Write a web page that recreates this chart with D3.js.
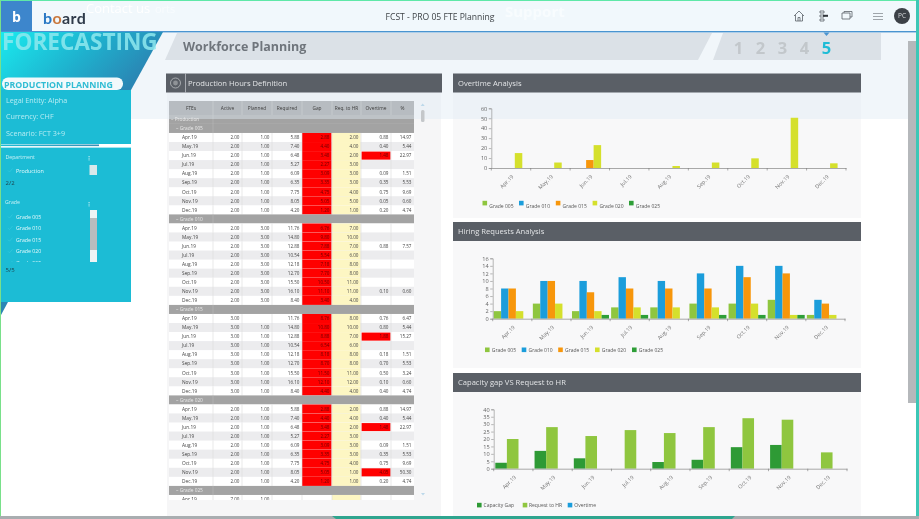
<!DOCTYPE html>
<html>
<head>
<meta charset="utf-8">
<title>FCST - PRO 05 FTE Planning</title>
<script src="https://cdn.jsdelivr.net/npm/d3@7"></script>
<style>
    html, body { margin: 0; padding: 0; background: #fff; overflow: hidden; }
    svg { display: block; font-family: "Open Sans", sans-serif; filter: blur(0.35px); }
</style>
</head>
<body>
<div id="chart"></div>
<script>
'use strict';

var months = ['Apr.19', 'May.19', 'Jun.19', 'Jul.19', 'Aug.19', 'Sep.19', 'Oct.19', 'Nov.19', 'Dec.19'];

// Overtime Analysis
var overtimeGrades = ['Grade 005', 'Grade 010', 'Grade 015', 'Grade 020', 'Grade 025'];
var overtime015 = [0, 0, 8, 0, 0, 0, 0, 0, 0];
var overtime020 = [15, 5.5, 23, 0, 2, 5.5, 9.7, 50.5, 4.7];

// Hiring Requests Analysis
var hiring005 = [2, 4, 2, 3, 3, 4, 4, 5, 1];
var hiring010 = [8, 10, 10, 11, 10, 12, 14, 14, 5];
var hiring015 = [8, 10, 7, 8, 8, 8, 11, 12, 4];
var hiring020 = [2, 4, 2, 3, 3, 3, 4, 1, 1];
var hiring025 = [0, 0, 1, 1, 0, 1, 1, 1, 0];

// Capacity gap VS Request to HR
var capacityNames = ['Capacity Gap', 'Request to HR', 'Overtime'];
var capacityGap = [4, 12, 7, 0, 4.5, 6, 14.5, 16, 0];
var requestToHr = [20, 28, 22, 26, 24, 28, 34, 33, 11];
var capacityOvertime = [0, 0, 0, 0, 0, 0, 0, 0, 0];

// Table columns
var tableColumns = ['FTEs', 'Active', 'Planned', 'Required', 'Gap', 'Req. to HR', 'Overtime', '%'];

var required005 = [5.88, 7.40, 6.48, 5.27, 6.09, 6.35, 7.75, 8.05, 4.20];
var gap005 = [2.88, 4.40, 3.48, 2.27, 3.09, 3.35, 4.75, 5.05, 1.20];
var req005 = [2, 4, 2, 3, 3, 3, 4, 5, 1];
var over005 = [0.88, 0.40, 1.48, null, 0.09, 0.35, 0.75, 0.05, 0.20];
var pct005 = [14.97, 5.44, 22.97, null, 1.51, 5.53, 9.69, 0.60, 4.74];

var required010 = [11.76, 14.80, 12.88, 10.54, 12.18, 12.70, 15.50, 16.10, 8.40];
var gap010 = [6.76, 9.80, 7.88, 5.54, 7.18, 7.70, 10.50, 11.10, 3.40];
var req010 = [7, 10, 7, 6, 8, 8, 11, 11, 4];
var over010 = [null, null, 0.88, null, null, null, null, 0.10, null];
var pct010 = [null, null, 7.57, null, null, null, null, 0.60, null];

var required015 = [11.76, 14.80, 12.88, 10.54, 12.18, 12.70, 15.50, 16.10, 8.40];
var gap015 = [8.76, 10.80, 8.88, 6.54, 8.18, 8.70, 11.50, 12.10, 4.40];
var req015 = [8, 10, 7, 6, 8, 8, 11, 12, 4];
var over015 = [0.76, 0.80, 1.88, null, 0.18, 0.70, 0.50, 0.10, 0.40];
var pct015 = [6.47, 5.44, 15.27, null, 1.51, 5.53, 3.24, 0.60, 4.74];

var required020 = [5.88, 7.40, 6.48, 5.27, 6.09, 6.35, 7.75, 8.05, 4.20];
var gap020 = [2.88, 4.40, 3.48, 2.27, 3.09, 3.35, 4.75, 5.05, 1.20];
var req020 = [2, 4, 2, 3, 3, 3, 4, 1, 1];
var over020 = [0.88, 0.40, 1.48, null, 0.09, 0.35, 0.75, 4.05, 0.20];
var pct020 = [14.97, 5.44, 22.97, null, 1.51, 5.53, 9.69, 50.30, 4.74];

var grades = [
    { name: 'Grade 005', active: 2, planned: [1, 1, 1, 1, 1, 1, 1, 1, 1], required: required005, gap: gap005, req: req005, over: over005, pct: pct005 },
    { name: 'Grade 010', active: 2, planned: [3, 3, 3, 3, 3, 3, 3, 3, 3], required: required010, gap: gap010, req: req010, over: over010, pct: pct010 },
    { name: 'Grade 015', active: 3, planned: [null, 1, 1, 1, 1, 1, 1, 1, 1], required: required015, gap: gap015, req: req015, over: over015, pct: pct015 },
    { name: 'Grade 020', active: 2, planned: [1, 1, 1, 1, 1, 1, 1, 1, 1], required: required020, gap: gap020, req: req020, over: over020, pct: pct020 }
];

var colors = { g005: '#8fc63f', g010: '#1b9ddb', g015: '#f7960b', g020: '#d5e02c', g025: '#2e9e37' };

var width = 919, height = 519;
var svg = d3.select('#chart').append('svg').attr('width', width).attr('height', height);
var defs = svg.append('defs');

function gradient(id, x2, y2, stops) {
    var g = defs.append('linearGradient').attr('id', id)
        .attr('x1', 0).attr('y1', 0).attr('x2', x2).attr('y2', y2);
    stops.forEach(function(s) {
        g.append('stop').attr('offset', s[0]).attr('stop-color', s[1]);
    });
}
gradient('sideGrad', 1, 0.35, [[0, '#1aeaee'], [0.55, '#1eb3cf'], [1, '#2a86b4']]);
gradient('stripeGrad', 1, 0, [[0, '#1cbcd5'], [1, '#3a8fb5']]);

function rect(parent, x, y, w, h, fill) {
    return parent.append('rect').attr('x', x).attr('y', y).attr('width', w).attr('height', h).attr('fill', fill);
}

function label(parent, x, y, str, size, fill, weight, anchor) {
    return parent.append('text').attr('x', x).attr('y', y).text(str)
        .attr('font-size', size).attr('fill', fill)
        .attr('font-weight', weight || 400)
        .attr('text-anchor', anchor || 'start');
}

function poly(parent, pts, fill) {
    return parent.append('polygon').attr('points', pts).attr('fill', fill);
}

// page and panel backgrounds
rect(svg, 0, 0, width, height, '#ffffff');
rect(svg, 167, 92, 274, 424, '#f6f6f7');
rect(svg, 453, 92, 408, 126, '#f8f8f9');
rect(svg, 453, 241, 408, 127, '#f8f8f9');
rect(svg, 453, 392, 408, 124, '#f8f8f9');

/* ---------- table ---------- */
var colEdges = [169, 213, 242, 272, 302, 332, 361, 391, 414];
var rowY = d3.scaleLinear().domain([0, 1]).range([119.4, 128.45]);
var rowH = 9.05;
var fmt = d3.format('.2f');

defs.append('clipPath').attr('id', 'tableClip').append('rect')
    .attr('x', 160).attr('y', 95).attr('width', 270).attr('height', 405);
var rowsG = svg.append('g').attr('clip-path', 'url(#tableClip)');

// light blue wash over the upper part of the page
rect(svg, 0, 32, width, 87, '#dfecf5').attr('opacity', 0.45);

var textG = svg.append('g').attr('clip-path', 'url(#tableClip)');

function bandRow(index, name, indent) {
    var y = rowY(index);
    rect(rowsG, colEdges[0], y - rowH / 2, colEdges[8] - colEdges[0], rowH, '#a3a3a3');
    rect(rowsG, colEdges[1] - 0.3, y - rowH / 2, 0.6, rowH, '#b9b9b9');
    label(textG, colEdges[0] + indent, y + 1.7, '\u2013  ' + name, 4.8, '#e9e9e9');
}

function dataRow(index, cells, striped) {
    var y = rowY(index), top = y - rowH / 2;
    rect(rowsG, colEdges[0], top, colEdges[8] - colEdges[0], rowH, striped ? '#ececee' : '#ffffff');
    rect(rowsG, colEdges[4], top, colEdges[5] - colEdges[4] - 0.5, rowH, '#ff0000');
    rect(rowsG, colEdges[5], top, colEdges[6] - colEdges[5] - 0.5, rowH, '#fdf6c3');
    if (cells.over > 1) {
        rect(rowsG, colEdges[6] + 0.5, top + 0.5, colEdges[7] - colEdges[6] - 1, rowH - 1, '#ff0000');
    }
    colEdges.slice(1, 8).forEach(function(x) {
        rect(rowsG, x - 0.3, top, 0.6, rowH, '#d9d9db');
    });
    label(textG, colEdges[0] + 13, y + 1.7, cells.month, 4.8, '#444');
    [cells.active, cells.planned, cells.required, cells.gap, cells.req, cells.over, cells.pct].forEach(function(v, i) {
        if (v === null || v === undefined) return;
        var isRed = i === 3 || (i === 5 && cells.over > 1);
        label(textG, colEdges[i + 2] - 2.5, y + 1.7, fmt(v), 4.6, isRed ? '#6a0000' : '#444', 400, 'end');
    });
}

var rowIndex = 0;
bandRow(rowIndex++, 'Production', 2);
grades.forEach(function(grade) {
    bandRow(rowIndex++, grade.name, 7);
    months.forEach(function(m, i) {
        dataRow(rowIndex++, {
            month: m, active: grade.active, planned: grade.planned[i], required: grade.required[i],
            gap: grade.gap[i], req: grade.req[i], over: grade.over[i], pct: grade.pct[i]
        }, i % 2 === 1);
    });
});
bandRow(rowIndex++, 'Grade 025', 7);
// Grade 025 only shows its first row before the table is cut off
(function() {
    var y = rowY(rowIndex), top = y - rowH / 2;
    rect(rowsG, colEdges[0], top, colEdges[8] - colEdges[0], rowH, '#ffffff');
    rect(rowsG, colEdges[5], top, colEdges[6] - colEdges[5] - 0.5, rowH, '#fdf6c3');
    colEdges.slice(1, 8).forEach(function(x) {
        rect(rowsG, x - 0.3, top, 0.6, rowH, '#d9d9db');
    });
    label(textG, colEdges[0] + 13, y + 1.7, 'Apr.19', 4.8, '#444');
    label(textG, colEdges[2] - 2.5, y + 1.7, fmt(7), 4.6, '#444', 400, 'end');
    label(textG, colEdges[3] - 2.5, y + 1.7, fmt(1), 4.6, '#444', 400, 'end');
})();

// table header
var headG = svg.append('g');
rect(headG, colEdges[0], 101, colEdges[8] - colEdges[0], 14, '#b7bcc1');
tableColumns.forEach(function(c, i) {
    var x0 = colEdges[i], x1 = colEdges[i + 1];
    if (i > 0) rect(headG, x0 - 0.3, 101, 0.6, 14, '#d0d3d6');
    label(headG, (x0 + x1) / 2, 109.8, c, 4.8, '#3c3c3c', 400, 'middle');
});

// table scrollbar
rect(headG, 421, 110, 3.5, 12, '#c4c7ca').attr('rx', 1.5);
poly(headG, '422.7,103.5 420.7,106 424.7,106', '#bcd8ea');
poly(headG, '423,495.5 421,493 425,493', '#bcd8ea');

/* ---------- top bar ---------- */
rect(svg, 0, 0, width, 31, '#f1f8fc');
rect(svg, 0, 31, width, 1.4, '#4a94d0');
rect(svg, 0, 0, width, 1, '#5fe8a8');
rect(svg, 0, 1, 32, 30, '#3d86cc');
label(svg, 16.5, 22, 'b', 14, '#ffffff', 700, 'middle');
var logo = label(svg, 43, 24, '', 16, '#2f3b4a', 700);
logo.attr('font-family', 'Lato, sans-serif').attr('letter-spacing', 0.4);
logo.append('tspan').attr('fill', '#2a78c4').text('b');
logo.append('tspan').attr('fill', '#c9793f').text('o');
logo.append('tspan').text('ard');
label(svg, 86, 13, 'Contact us', 13, '#ffffff', 400);
label(svg, 155, 13, 'orts', 11, '#f8fcfe', 400);
label(svg, 505, 17, 'Support', 15, '#f8fcfe', 700);
label(svg, 440, 20, 'FCST - PRO 05 FTE Planning', 8.6, '#3e4347', 400, 'middle');

// header icons
var icons = svg.append('g').attr('fill', 'none').attr('stroke', '#5b6167').attr('stroke-width', 0.8);
icons.append('path').attr('d', 'M794,16 L799,11 L804,16 M795.5,15 V21 H802.5 V15 M798,21 V17.5 H800 V21');
icons.append('path').attr('d', 'M820,11 H824 V13 H820 Z M820,15 H824 V17 H820 Z M820,19 H824 V21 H820 Z');
rect(svg, 823, 14.8, 5, 2, '#30353a');
icons.append('path').attr('d', 'M842,13 H850 V19 H842 Z M844,13 V11.5 H852 V17 H850');
icons.append('path').attr('d', 'M873,13.5 H883 M873,16.5 H883 M873,19.5 H883').attr('stroke', '#8a8f94');
svg.append('circle').attr('cx', 902).attr('cy', 16).attr('r', 8).attr('fill', '#3c4147');
label(svg, 902, 18.3, 'PC', 6.5, '#d8dadc', 400, 'middle');

/* ---------- title ribbon ---------- */
poly(svg, '165,60 177,33 712,33 698,60', '#dbe1e7');
poly(svg, '713,60 723,33 881,33 881,60', '#dbe1e7');
label(svg, 183, 51, 'Workforce Planning', 12.5, '#6f757c', 700);
['1', '2', '3', '4', '5'].forEach(function(n, i) {
    label(svg, 738.5 + i * 22, 54, n, 16.5, i === 4 ? '#1fbcd6' : '#c2c7cb', 700, 'middle');
});
poly(svg, '823.5,32.5 829.5,32.5 826.5,36', '#4a94d0');

// page scrollbar and window edges
rect(svg, 908, 41, 8, 362, '#b5b8bb');
rect(svg, 916, 0, 3, height, '#3cc7b6');
rect(svg, 0, 0, 1, height, '#79e08a');
rect(svg, 0, 516, width, 3, '#a9adb0');
poly(svg, '332,516 735,516 732,519 336,519', '#2fa58f');

/* ---------- left side panel ---------- */
poly(svg, '1,32 163,32 131,90 1,90', 'url(#sideGrad)');
label(svg, 2, 50, 'FORECASTING', 22.6, '#8fe9ef', 700).attr('opacity', 0.85);
rect(svg, 1, 90, 130, 54, '#1cbcd5');
rect(svg, 2, 77.5, 121, 12.5, '#f2f9fb').attr('rx', 6);
label(svg, 4, 87.5, 'PRODUCTION PLANNING', 8.8, '#2fbcd3', 700);
label(svg, 6, 102.5, 'Legal Entity: Alpha', 7.2, '#b5ecf3');
label(svg, 6, 118.5, 'Currency:  CHF', 7.2, '#b5ecf3');
label(svg, 6, 135.5, 'Scenario: FCT 3+9', 7.2, '#b5ecf3');
rect(svg, 1, 144.5, 98, 1.6, 'url(#stripeGrad)');
rect(svg, 1, 147.6, 130, 154.4, '#1cbcd5');
poly(svg, '1,302 8,302 1,315', '#2a86b4');

label(svg, 5.5, 159, 'Department', 5.2, '#c8f1f6');
label(svg, 16, 172.5, 'Production', 5.4, '#e6f9fb');
label(svg, 5.5, 184.5, '2/2', 6, '#1c3f49');
label(svg, 5, 204, 'Grade', 5.2, '#c8f1f6');
defs.append('clipPath').attr('id', 'gradeClip').append('rect')
    .attr('x', 0).attr('y', 210).attr('width', 88).attr('height', 52);
var gradeList = svg.append('g').attr('clip-path', 'url(#gradeClip)');
overtimeGrades.forEach(function(g, i) {
    label(gradeList, 16, 218.5 + i * 11.6, g, 5.2, '#e6f9fb');
    gradeList.append('path').attr('d', 'M8,' + (216.5 + i * 11.6) + ' l1.5,1.5 l3,-3.5')
        .attr('fill', 'none').attr('stroke', '#35c8dd').attr('stroke-width', 0.7);
});
svg.append('path').attr('d', 'M8,170.5 l1.5,1.5 l3,-3.5').attr('fill', 'none').attr('stroke', '#35c8dd').attr('stroke-width', 0.7);
label(svg, 5.5, 271.5, '5/5', 6, '#1c3f49');
rect(svg, 89.5, 165, 7.5, 10, '#d8e8ea');
rect(svg, 90, 210, 7, 52, '#eef4f5');
rect(svg, 90, 218, 7, 32, '#b8bcbe');
[156, 157.7, 159.4, 202, 203.7, 205.4].forEach(function(y) {
    rect(svg, 88.6, y, 0.9, 1, '#e6f9fb');
});

/* ---------- panel headers ---------- */
function panelHeader(x, y, w, title, textX) {
    rect(svg, x, y, w, 19, '#5a5f66');
    label(svg, textX, y + 12.2, title, 7.6, '#e2e4e6');
}
panelHeader(166, 73.5, 276, 'Production Hours Definition', 188);
panelHeader(453, 73.5, 408, 'Overtime Analysis', 458);
panelHeader(453, 222, 408, 'Hiring Requests Analysis', 458);
panelHeader(453, 373, 408, 'Capacity gap VS Request to HR', 458);
rect(svg, 185, 73.5, 0.7, 19, '#c8cbce');
svg.append('circle').attr('cx', 175.5).attr('cy', 83).attr('r', 5).attr('fill', 'none').attr('stroke', '#b9bcbf').attr('stroke-width', 0.8);
svg.append('circle').attr('cx', 175.5).attr('cy', 83).attr('r', 2.4).attr('fill', '#8f9397');

/* ---------- bar charts ---------- */
function barChart(opts) {
    var g = svg.append('g');
    var x = d3.scaleBand().domain(months).range([opts.x0, opts.x1]);
    var inner = d3.scaleBand().domain(d3.range(opts.series.length))
        .range([opts.pad, opts.pad + opts.barW * opts.series.length]);
    var y = d3.scaleLinear().domain([0, opts.max]).range([opts.y0, opts.y1]);

    opts.series.forEach(function(s, si) {
        g.append('g').selectAll('rect')
            .data(s.values.map(function(v, i) { return { month: months[i], value: v }; })
                .filter(function(d) { return d.value > 0; }))
            .join('rect')
            .attr('x', function(d) { return x(d.month) + inner(si); })
            .attr('y', function(d) { return y(d.value); })
            .attr('width', inner.bandwidth())
            .attr('height', function(d) { return y(0) - y(d.value); })
            .attr('fill', s.color);
    });

    var yAxis = g.append('g').attr('transform', 'translate(' + opts.x0 + ',0)')
        .call(d3.axisLeft(y).tickValues(opts.ticks).tickSize(2.5).tickPadding(1.5));
    yAxis.selectAll('text').attr('font-size', 5.6).attr('fill', '#666').attr('font-family', '"Open Sans", sans-serif');
    yAxis.selectAll('line, path').attr('stroke', '#8a8a8a').attr('stroke-width', 0.6);

    var xAxis = g.append('g').attr('transform', 'translate(0,' + opts.y0 + ')')
        .call(d3.axisBottom(x).tickSize(0).tickPadding(0));
    xAxis.select('.domain').attr('stroke', '#a8a8a8').attr('stroke-width', 1);
    xAxis.selectAll('text')
        .attr('font-size', 5.4).attr('fill', '#777').attr('font-family', '"Open Sans", sans-serif')
        .attr('text-anchor', 'end').attr('dy', 0).attr('y', 0)
        .attr('transform', 'translate(3,9) rotate(-45)');
    // tick marks sit on the month boundaries, not the month centres
    g.append('g').selectAll('line').data(months).join('line')
        .attr('x1', function(d) { return x(d); }).attr('x2', function(d) { return x(d); })
        .attr('y1', opts.y0).attr('y2', opts.y0 + 2.5)
        .attr('stroke', '#777').attr('stroke-width', 0.6);
    g.append('line').attr('x1', opts.x1).attr('x2', opts.x1)
        .attr('y1', opts.y0).attr('y2', opts.y0 + 2.5).attr('stroke', '#777').attr('stroke-width', 0.6);

    opts.legend.forEach(function(l) {
        rect(g, l.x, opts.legendY - 2.2, 4.6, 4.6, l.color);
        label(g, l.x + l.dx, opts.legendTextY, l.name, 5, '#555');
    });
}

barChart({
    x0: 491.3, x1: 846, y0: 168, y1: 108.3, max: 60, ticks: [0, 10, 20, 30, 40, 50, 60], pad: 1, barW: 7.5,
    series: [
        { color: colors.g015, values: [0, 0, 0, 0, 0, 0, 0, 0, 0] },
        { color: colors.g015, values: [0, 0, 0, 0, 0, 0, 0, 0, 0] },
        { color: colors.g015, values: overtime015 },
        { color: colors.g020, values: overtime020 },
        { color: colors.g025, values: [0, 0, 0, 0, 0, 0, 0, 0, 0] }
    ],
    legendY: 203, legendTextY: 208,
    legend: [
        { name: overtimeGrades[0], x: 482.5, dx: 6.8, color: colors.g005 },
        { name: overtimeGrades[1], x: 519, dx: 6.8, color: colors.g010 },
        { name: overtimeGrades[2], x: 555.8, dx: 6.8, color: colors.g015 },
        { name: overtimeGrades[3], x: 592.6, dx: 6.8, color: colors.g020 },
        { name: overtimeGrades[4], x: 629, dx: 6.8, color: colors.g025 }
    ]
});

barChart({
    x0: 492.7, x1: 845, y0: 318.7, y1: 258.3, max: 16, ticks: [0, 2, 4, 6, 8, 10, 12, 14, 16], pad: 1, barW: 7.4,
    series: [
        { color: colors.g005, values: hiring005 },
        { color: colors.g010, values: hiring010 },
        { color: colors.g015, values: hiring015 },
        { color: colors.g020, values: hiring020 },
        { color: colors.g025, values: hiring025 }
    ],
    legendY: 349.7, legendTextY: 351.8,
    legend: [
        { name: overtimeGrades[0], x: 485, dx: 6.8, color: colors.g005 },
        { name: overtimeGrades[1], x: 521.7, dx: 6.8, color: colors.g010 },
        { name: overtimeGrades[2], x: 558.2, dx: 6.8, color: colors.g015 },
        { name: overtimeGrades[3], x: 595, dx: 6.8, color: colors.g020 },
        { name: overtimeGrades[4], x: 632, dx: 6.8, color: colors.g025 }
    ]
});

barChart({
    x0: 493.7, x1: 847, y0: 468.7, y1: 409.3, max: 40, ticks: [0, 5, 10, 15, 20, 25, 30, 35, 40], pad: 1.6, barW: 11.6,
    series: [
        { color: '#2e9a35', values: capacityGap },
        { color: colors.g005, values: requestToHr },
        { color: colors.g010, values: capacityOvertime }
    ],
    legendY: 505, legendTextY: 507,
    legend: [
        { name: capacityNames[0], x: 477, dx: 6.6, color: '#2e9a35' },
        { name: capacityNames[1], x: 522.7, dx: 6.2, color: colors.g005 },
        { name: capacityNames[2], x: 567.7, dx: 6.6, color: colors.g010 }
    ]
});
</script>
</body>
</html>
